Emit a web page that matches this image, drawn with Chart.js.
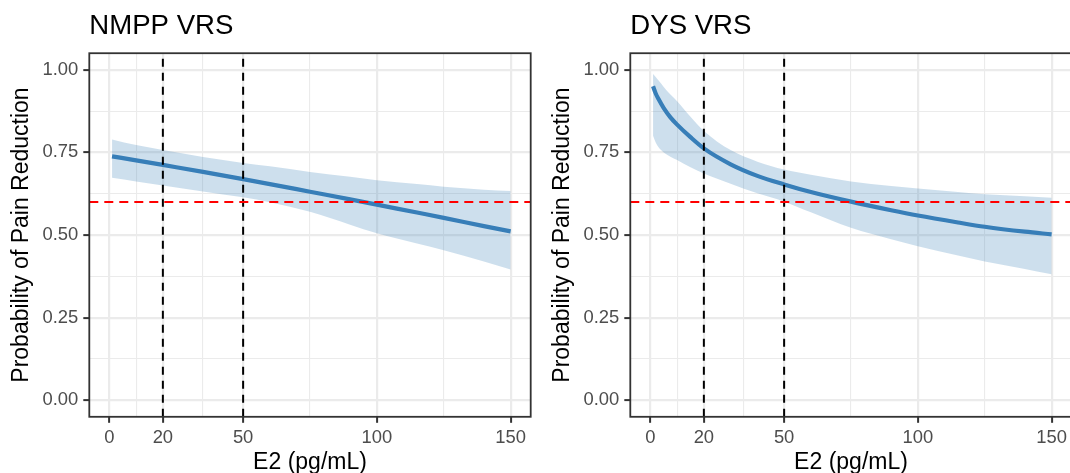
<!DOCTYPE html>
<html>
<head>
<meta charset="utf-8">
<script src="https://cdn.jsdelivr.net/npm/chart.js@4.4.1/dist/chart.umd.min.js"></script>
<style>
html, body { margin: 0; padding: 0; background: #fff; overflow: hidden; width: 1070px; height: 473px; }
.panel { position: absolute; top: 0; width: 540px; height: 473px; }
</style>
</head>
<body>
<div class="panel" style="left:0"><canvas id="nmppChart" width="540" height="473"></canvas></div>
<div class="panel" style="left:541px"><canvas id="dysChart" width="540" height="473"></canvas></div>
<script>
// axis breaks
let e2Ticks = [0, 20, 50, 100, 150];
let e2Minor = [10, 35, 75, 125];
let probTicks = [0, 0.25, 0.5, 0.75, 1];
let probMinor = [0.125, 0.375, 0.625, 0.875];

// reference lines
let cutoffE2 = [20, 50];
let cutoffProb = 0.6;

// NMPP VRS
let nmppE2 = [1, 10, 20, 35, 50, 60, 75, 90, 100, 115, 125, 140, 150];
let nmppFit = [0.738, 0.726, 0.712, 0.691, 0.669, 0.654, 0.631, 0.608, 0.592, 0.568, 0.552, 0.527, 0.511];
let nmppUpper = [0.789, 0.772, 0.757, 0.736, 0.718, 0.708, 0.691, 0.676, 0.666, 0.654, 0.646, 0.637, 0.633];
let nmppLower = [0.673, 0.662, 0.650, 0.632, 0.614, 0.599, 0.570, 0.531, 0.505, 0.474, 0.454, 0.420, 0.396];

// DYS VRS
let dysE2 = [1, 2, 3, 5, 7.5, 10, 15, 20, 30, 40, 50, 60, 75, 90, 100, 115, 125, 140, 150];
let dysFit = [0.950, 0.928, 0.912, 0.884, 0.856, 0.834, 0.796, 0.762, 0.714, 0.679, 0.653, 0.630, 0.601, 0.575, 0.559, 0.538, 0.525, 0.510, 0.502];
let dysUpper = [0.987, 0.978, 0.968, 0.948, 0.925, 0.905, 0.858, 0.815, 0.757, 0.722, 0.698, 0.682, 0.662, 0.648, 0.641, 0.630, 0.623, 0.617, 0.613];
let dysLower = [0.800, 0.780, 0.766, 0.750, 0.737, 0.727, 0.705, 0.686, 0.655, 0.626, 0.601, 0.569, 0.522, 0.487, 0.466, 0.438, 0.420, 0.397, 0.381];

let fontFamily = "'Liberation Sans', Arial, sans-serif";
let lineColor = '#377EB8';
let ribbonColor = 'rgba(55, 126, 184, 0.25)';
let gridColor = '#EBEBEB';

let toPoints = function (xs, ys) {
    return xs.map((v, i) => ({ x: v, y: ys[i] }));
};

// dashed cutoffs + panel border, drawn through the scales
let refLines = {
    id: 'refLines',
    afterDatasetsDraw(chart) {
        let ctx = chart.ctx;
        let a = chart.chartArea;
        let x = chart.scales.x;
        let y = chart.scales.y;
        ctx.save();
        ctx.beginPath();
        ctx.rect(a.left, a.top, a.right - a.left, a.bottom - a.top);
        ctx.clip();
        ctx.lineWidth = 2;
        ctx.strokeStyle = '#000000';
        ctx.setLineDash([8, 6]);
        cutoffE2.forEach(v => {
            let px = x.getPixelForValue(v);
            ctx.beginPath();
            ctx.moveTo(px, a.bottom);
            ctx.lineTo(px, a.top);
            ctx.stroke();
        });
        ctx.strokeStyle = '#FF0000';
        ctx.setLineDash([9, 6]);
        let py = y.getPixelForValue(cutoffProb);
        ctx.beginPath();
        ctx.moveTo(a.left, py);
        ctx.lineTo(a.right, py);
        ctx.stroke();
        ctx.restore();

        ctx.save();
        ctx.lineWidth = 1.8;
        ctx.strokeStyle = '#333333';
        ctx.strokeRect(a.left, a.top, a.right - a.left, a.bottom - a.top);
        ctx.restore();
    }
};

let makeChart = function (canvasId, titleText, e2, fit, lower, upper) {
    let allE2 = e2Ticks.concat(e2Minor).sort((a, b) => a - b);
    let allProb = probTicks.concat(probMinor).sort((a, b) => a - b);
    return new Chart(document.getElementById(canvasId).getContext('2d'), {
        type: 'line',
        data: {
            datasets: [{
                label: 'fit',
                data: toPoints(e2, fit),
                borderColor: lineColor,
                borderWidth: 4.2,
                pointRadius: 0,
                fill: false,
                cubicInterpolationMode: 'monotone'
            }, {
                label: 'lower',
                data: toPoints(e2, lower),
                borderWidth: 0,
                borderColor: 'rgba(0,0,0,0)',
                pointRadius: 0,
                fill: false,
                cubicInterpolationMode: 'monotone'
            }, {
                label: 'upper',
                data: toPoints(e2, upper),
                borderWidth: 0,
                borderColor: 'rgba(0,0,0,0)',
                backgroundColor: ribbonColor,
                pointRadius: 0,
                fill: '-1',
                cubicInterpolationMode: 'monotone'
            }]
        },
        options: {
            responsive: false,
            animation: false,
            layout: { padding: { top: 0, left: 0, right: 9.3, bottom: 0 } },
            plugins: {
                legend: { display: false },
                tooltip: { enabled: false },
                title: {
                    display: true,
                    text: titleText,
                    align: 'start',
                    fullSize: false,
                    color: '#000000',
                    font: { family: fontFamily, size: 27.6, weight: 'normal', lineHeight: 1.2 },
                    padding: { top: 9.5, bottom: 10.6 }
                }
            },
            scales: {
                x: {
                    type: 'linear',
                    min: -7.5,
                    max: 157.5,
                    afterBuildTicks: s => { s.ticks = allE2.map(v => ({ value: v })); },
                    afterFit: s => { s.height = 56.2; },
                    ticks: {
                        autoSkip: false,
                        maxRotation: 0,
                        padding: 4,
                        color: '#4D4D4D',
                        font: { family: fontFamily, size: 18.4 },
                        callback: v => e2Ticks.includes(v) ? String(v) : ''
                    },
                    grid: {
                        color: gridColor,
                        lineWidth: c => e2Ticks.includes(c.tick.value) ? 2.2 : 1.1,
                        tickLength: 6,
                        tickWidth: 2,
                        tickColor: c => e2Ticks.includes(c.tick.value) ? '#333333' : 'rgba(0,0,0,0)'
                    },
                    border: { display: false },
                    title: {
                        display: true,
                        text: 'E2 (pg/mL)',
                        color: '#000000',
                        font: { family: fontFamily, size: 23, lineHeight: 1 },
                        padding: { top: 0, bottom: -1 }
                    }
                },
                y: {
                    min: -0.05,
                    max: 1.05,
                    afterBuildTicks: s => { s.ticks = allProb.map(v => ({ value: v })); },
                    afterFit: s => { s.width = 89.3; },
                    ticks: {
                        autoSkip: false,
                        padding: 5,
                        color: '#4D4D4D',
                        font: { family: fontFamily, size: 18.4 },
                        callback: v => probTicks.includes(v) ? v.toFixed(2) : ''
                    },
                    grid: {
                        color: gridColor,
                        lineWidth: c => probTicks.includes(c.tick.value) ? 2.2 : 1.1,
                        tickLength: 6,
                        tickWidth: 2,
                        tickColor: c => probTicks.includes(c.tick.value) ? '#333333' : 'rgba(0,0,0,0)'
                    },
                    border: { display: false },
                    title: {
                        display: true,
                        text: 'Probability of Pain Reduction',
                        color: '#000000',
                        font: { family: fontFamily, size: 23, lineHeight: 1 },
                        padding: { top: 10.5, bottom: 0 }
                    }
                }
            }
        },
        plugins: [refLines]
    });
};

window.nmppLine = makeChart('nmppChart', 'NMPP VRS', nmppE2, nmppFit, nmppLower, nmppUpper);
window.dysLine = makeChart('dysChart', 'DYS VRS', dysE2, dysFit, dysLower, dysUpper);
</script>
</body>
</html>
